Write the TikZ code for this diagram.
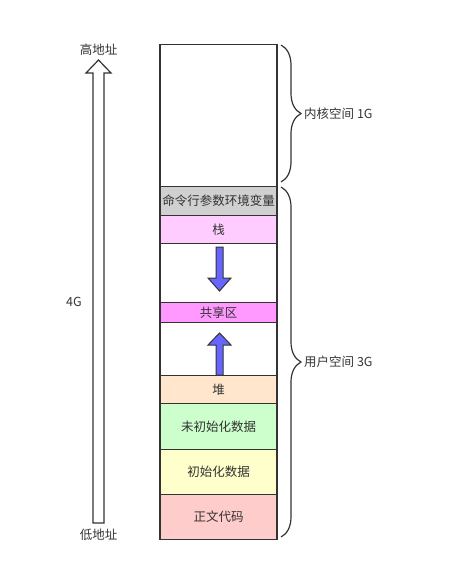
\documentclass[tikz,border=0pt]{standalone}
\usepackage{fontspec}
\newfontfamily\cjk{Noto Sans CJK SC}
\usepackage{xcolor}
\usetikzlibrary{calc,decorations.pathreplacing}
\definecolor{segline}{HTML}{333333}
\definecolor{labelgray}{HTML}{333333}
\definecolor{argsgray}{HTML}{D0D0D0}
\definecolor{stackpink}{HTML}{FFCCFF}
\definecolor{sharedpink}{HTML}{FF99FF}
\definecolor{heappeach}{HTML}{FFE6CC}
\definecolor{bssgreen}{HTML}{CCFFCC}
\definecolor{datayellow}{HTML}{FFFFCC}
\definecolor{textred}{HTML}{FFCCCC}
\definecolor{arrowblue}{HTML}{6666FF}
\tikzset{
	seg/.style={
			draw=segline, line width=1.2pt, minimum width=117pt,
			inner sep=0pt, anchor=north, text=labelgray,
			font=\cjk\fontsize{12.5}{14}\selectfont
		},
	lbl/.style={text=labelgray, inner sep=1pt, font=\cjk\fontsize{12.5}{14}\selectfont},
	brace/.style={draw=segline, line width=1.2pt,
			decorate, decoration={brace, amplitude=20pt}}
}

\begin{document}
\begin{tikzpicture}[x=1pt,y=-1pt]
	\useasboundingbox (0,0) rectangle (458,582);
	% memory column, top to bottom
	\node[seg, minimum height=142pt] (kernel) at (218.5,44) {};
	\node[seg, minimum height=29pt, fill=argsgray] (args) at (218.5,186) {命令行参数环境变量};
	\node[seg, minimum height=28pt, fill=stackpink] (stack) at (218.5,215) {栈};
	\node[seg, minimum height=59pt] (gapdown) at (218.5,243) {};
	\node[seg, minimum height=20pt, fill=sharedpink] (shared) at (218.5,302) {共享区};
	\node[seg, minimum height=53pt] (gapup) at (218.5,322) {};
	\node[seg, minimum height=28pt, fill=heappeach] (heap) at (218.5,375) {堆};
	\node[seg, minimum height=46pt, fill=bssgreen] (bss) at (218.5,403) {未初始化数据};
	\node[seg, minimum height=45pt, fill=datayellow] (data) at (218.5,449) {初始化数据};
	\node[seg, minimum height=45pt, fill=textred] (code) at (218.5,494) {正文代码};
	% growth arrows
	\draw[segline, line width=1pt, fill=arrowblue]
		(216,247)--(223,247)--(223,278)--(231,278)--(219.5,291)--(208,278)--(216,278)--cycle;
	\draw[segline, line width=1pt, fill=arrowblue]
		(216,375)--(216,345)--(208,345)--(219.5,333)--(231,345)--(223,345)--(223,375)--cycle;
	% address arrow
	\draw[segline, line width=1.2pt, fill=white]
		(93,523)--(93,73)--(86,73)--(98.5,60)--(111,73)--(104,73)--(104,523)--cycle;
	\node[lbl] (high) at (98.5,50) {高地址};
	\node[lbl] (low) at (98.5,535) {低地址};
	\node[lbl] (total) at (74,302) {4G};
	% braces
	\draw[brace] (281,45) -- (281,182);
	\draw[brace] (281,187) -- (281,537);
	\node[lbl, anchor=west] (kspace) at (303,114) {内核空间 1G};
	\node[lbl, anchor=west] (uspace) at (303,362) {用户空间 3G};
\end{tikzpicture}
\end{document}
